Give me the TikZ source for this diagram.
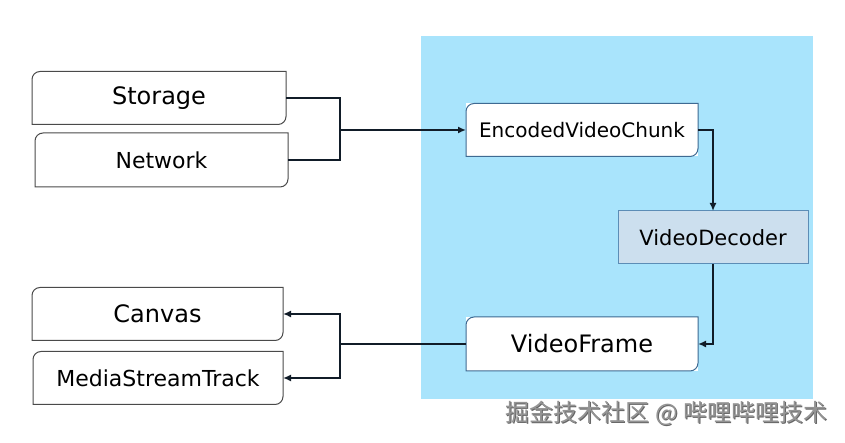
\documentclass[tikz,border=0pt]{standalone}
\usepackage{fontspec}
\setmainfont{DejaVu Sans}
\newfontfamily\cjk{Noto Sans CJK SC}
\usetikzlibrary{arrows.meta,calc}
\definecolor{panel}{HTML}{A9E4FC}
\definecolor{wire}{HTML}{111C28}
\definecolor{decfill}{HTML}{CCDFEE}
\definecolor{decline}{HTML}{5C8DB6}
\definecolor{boxline}{HTML}{4A4A4A}
\definecolor{evcline}{HTML}{3E6A92}
\tikzset{
  box/.style={inner sep=0pt, outer sep=0pt, text=black},
  wireline/.style={draw=wire, line width=2pt},
  arr/.style={wireline, -{Latex[length=8pt,width=7pt]}},
}
% leaf-shaped outline: rounded top-left and bottom-right corners
\newcommand{\leafoutline}[2]{%
  \draw[#2, line width=1pt] (#1.south west) -- ([yshift=-8pt]#1.north west)
    arc[start angle=180,end angle=90,radius=8pt] -- (#1.north east)
    -- ([yshift=8pt]#1.south east) arc[start angle=0,end angle=-90,radius=8pt] -- cycle;}
\begin{document}
\begin{tikzpicture}[x=1pt,y=1pt]
\useasboundingbox (0,0) rectangle (845,443);
\fill[white] (0,0) rectangle (845,443);
% panel
\fill[panel] (421,44) rectangle (813,407);
% nodes
\node[box, minimum width=254pt, minimum height=53pt, font=\fontsize{24}{28}\selectfont] (storage) at (159,345) {Storage};
\node[box, minimum width=253pt, minimum height=54pt, font=\fontsize{22}{26}\selectfont] (network) at (161.5,283) {Network};
\node[box, fill=white, minimum width=232pt, minimum height=53pt, font=\fontsize{20}{24}\selectfont] (evc) at (582,313) {EncodedVideoChunk};
\node[box, fill=decfill, draw=decline, line width=1pt, minimum width=190pt, minimum height=53pt, font=\fontsize{21}{25}\selectfont] (dec) at (713,205.5) {VideoDecoder};
\node[box, fill=white, minimum width=232pt, minimum height=54pt, font=\fontsize{24}{28}\selectfont] (vf) at (582,99) {VideoFrame};
\node[box, minimum width=251pt, minimum height=53pt, font=\fontsize{24}{28}\selectfont] (canvas) at (157.5,129) {Canvas};
\node[box, minimum width=250pt, minimum height=53pt, font=\fontsize{22}{26}\selectfont] (mst) at (158,65) {MediaStreamTrack};
% outlines
\leafoutline{storage}{boxline}
\leafoutline{network}{boxline}
\leafoutline{evc}{evcline}
\leafoutline{vf}{evcline}
\leafoutline{canvas}{boxline}
\leafoutline{mst}{boxline}
% junctions
\coordinate (jin) at (340,313);
\coordinate (jout) at (340,99);
% connectors
\draw[wireline] (storage.east) -| (jin);
\draw[wireline] (network.east) -| (jin);
\draw[arr] (jin) -- (evc.west);
\draw[arr] (evc.east) -| (dec.north);
\draw[arr] (dec.south) |- (vf.east);
\draw[wireline] (vf.west) -- (jout);
\draw[arr] (jout) |- (canvas.east);
\draw[arr] (jout) |- (mst.east);
% watermark
\node[text=black!60, font=\cjk\fontsize{24}{27}\selectfont] (wmshadow) at (667.5,29) {掘金技术社区 @ 哔哩哔哩技术};
\node[text=black!42, font=\cjk\fontsize{24}{27}\selectfont] (wm) at (666.5,30) {掘金技术社区 @ 哔哩哔哩技术};
\end{tikzpicture}
\end{document}
